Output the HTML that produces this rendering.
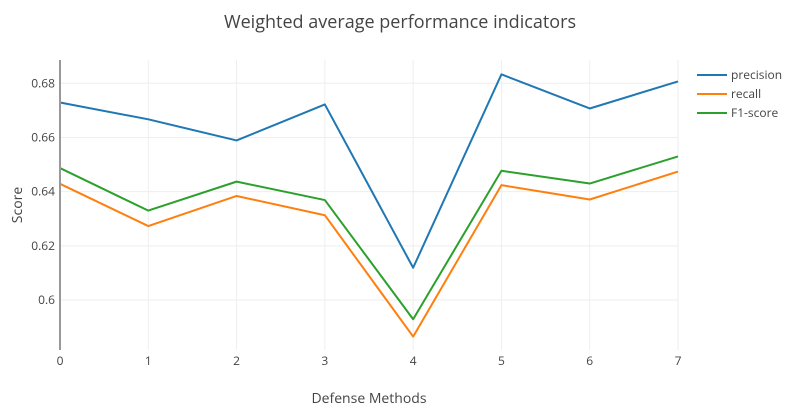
<!DOCTYPE html>
<html><head><meta charset="utf-8"><style>
body{margin:0;background:#fff;}
svg{display:block;font-family:"Open Sans","Liberation Sans",sans-serif;}
</style></head><body>
<svg id="chart" width="801" height="411">
<text x="400" y="28" text-anchor="middle" font-size="18" fill="#444">Weighted average performance indicators</text>
<g id="grid"></g>
<g id="series"></g>
<line x1="60" y1="60" x2="60" y2="350" stroke="#999" stroke-width="2"/>
<g id="ticks"></g>
<text x="369" y="403" text-anchor="middle" font-size="14" fill="#444">Defense Methods</text>
<text transform="translate(22,205) rotate(-90)" text-anchor="middle" font-size="14" fill="#444">Score</text>
<g id="legend"></g>
</svg>
<script>
const categories=[0,1,2,3,4,5,6,7];
const precision=[0.6729,0.6667,0.6589,0.6722,0.6119,0.6833,0.6707,0.6807];
const recall=[0.6429,0.6273,0.6384,0.6313,0.5865,0.6424,0.6371,0.6474];
const f1=[0.6487,0.6330,0.6437,0.6369,0.5929,0.6477,0.6430,0.6530];
const yTicks=[0.6,0.62,0.64,0.66,0.68];
const yTickLabels=["0.6","0.62","0.64","0.66","0.68"];
const seriesNames=["precision","recall","F1-score"];
const colors=["#1f77b4","#ff7f0e","#2ca02c"];
const NS="http://www.w3.org/2000/svg";
const x=v=>60+(678-60)*(v-0)/7;
const y=v=>300-(v-0.6)*(300-83.3)/0.08;
function mk(t,a,p){const e=document.createElementNS(NS,t);for(const k in a)e.setAttribute(k,a[k]);p.appendChild(e);return e;}
const grid=document.getElementById('grid'),ticks=document.getElementById('ticks');
yTicks.forEach((t,i)=>{
 const l=mk('line',{x1:60,x2:678,y1:y(t),y2:y(t),stroke:'#eee','stroke-width':1},grid);
 
 
 const tx=mk('text',{x:55,y:y(t)+4,'text-anchor':'end','font-size':12,fill:'#444'},ticks);
 tx.textContent=yTickLabels[i];
 
 
});
categories.forEach(c=>{
 const l=mk('line',{x1:x(c),x2:x(c),y1:60,y2:350,stroke:'#eee','stroke-width':1},grid);
 
 
 const tx=mk('text',{x:x(c),y:365,'text-anchor':'middle','font-size':12,fill:'#444'},ticks);
 tx.textContent=String(c);
 
 
});
const sg=document.getElementById('series'),lg=document.getElementById('legend');
[precision,recall,f1].forEach((s,i)=>{
 const p=mk('polyline',{points:s.map((v,j)=>x(categories[j])+','+y(v)).join(' '),fill:'none',stroke:colors[i],'stroke-width':2,'stroke-linejoin':'round'},sg);
 
 
 const g=mk('g',{},lg);
 
 
 const ly=75+i*19;
 mk('line',{x1:697,x2:727,y1:ly,y2:ly,stroke:colors[i],'stroke-width':2},g);
 const t=mk('text',{x:731,y:ly+4,'font-size':12,fill:'#444'},g);
 t.textContent=seriesNames[i];
});
</script>
</body></html>
